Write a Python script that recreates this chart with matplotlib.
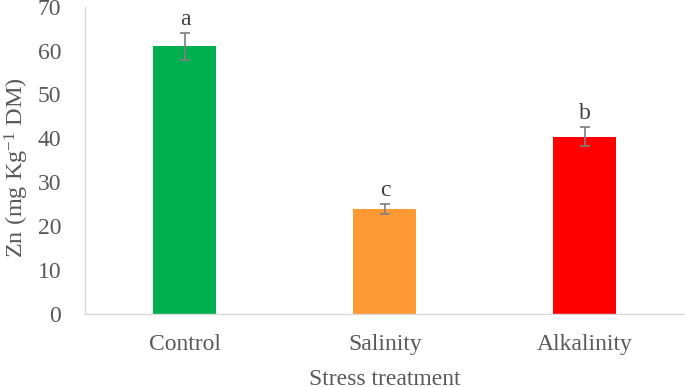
import matplotlib
matplotlib.use('Agg')
import matplotlib.pyplot as plt

plt.rcParams['font.family'] = ['Liberation Serif', 'DejaVu Serif']
plt.rcParams['mathtext.fontset'] = 'custom'
plt.rcParams['mathtext.rm'] = 'Liberation Serif'
plt.rcParams['mathtext.it'] = 'Liberation Serif:italic'
plt.rcParams['mathtext.default'] = 'regular'

# データ
treatments = ['Control', 'Salinity', 'Alkalinity']
zn_values = [61.0, 23.9, 40.4]
zn_errors = [3.1, 1.2, 2.2]
letters = ['a', 'c', 'b']
bar_colors = ['#00B050', '#FF9933', '#FF0000']

fig = plt.figure(figsize=(6.85, 3.87), dpi=100)
ax = fig.add_axes([0.124, 0.188, 0.876, 0.795])

x = range(len(treatments))
ax.bar(x, zn_values, width=0.315, color=bar_colors, zorder=2)
ax.errorbar(x, zn_values, yerr=zn_errors, fmt='none', ecolor='#7F7F7F',
            elinewidth=1.2, capsize=3.6, capthick=1.2, zorder=3)

# 有意差の文字
for i, (v, e, s) in enumerate(zip(zn_values, zn_errors, letters)):
    ax.text(i, v + e + 0.6, s, ha='center', va='bottom', fontsize=17, color='#404040')

ax.set_xlim(-0.5, 2.5)
ax.set_ylim(0, 70)
ax.set_yticks(range(0, 71, 10))
ax.set_xticks(list(x))
ax.set_xticklabels(treatments)

for side in ['top', 'right']:
    ax.spines[side].set_visible(False)
for side in ['left', 'bottom']:
    ax.spines[side].set_color('#D9D9D9')
    ax.spines[side].set_linewidth(1.0)

ax.tick_params(axis='both', length=0, labelsize=17, labelcolor='#595959')
ax.tick_params(axis='y', pad=17)
ax.tick_params(axis='x', pad=14)

ax.set_xlabel('Stress treatment', fontsize=17, color='#595959', labelpad=10)
ax.set_ylabel('Zn (mg Kg$^{-1}$ DM)', fontsize=17.5, color='#595959')
ax.yaxis.set_label_coords(-0.09, 0.475)

plt.savefig('out.png', dpi=100)
